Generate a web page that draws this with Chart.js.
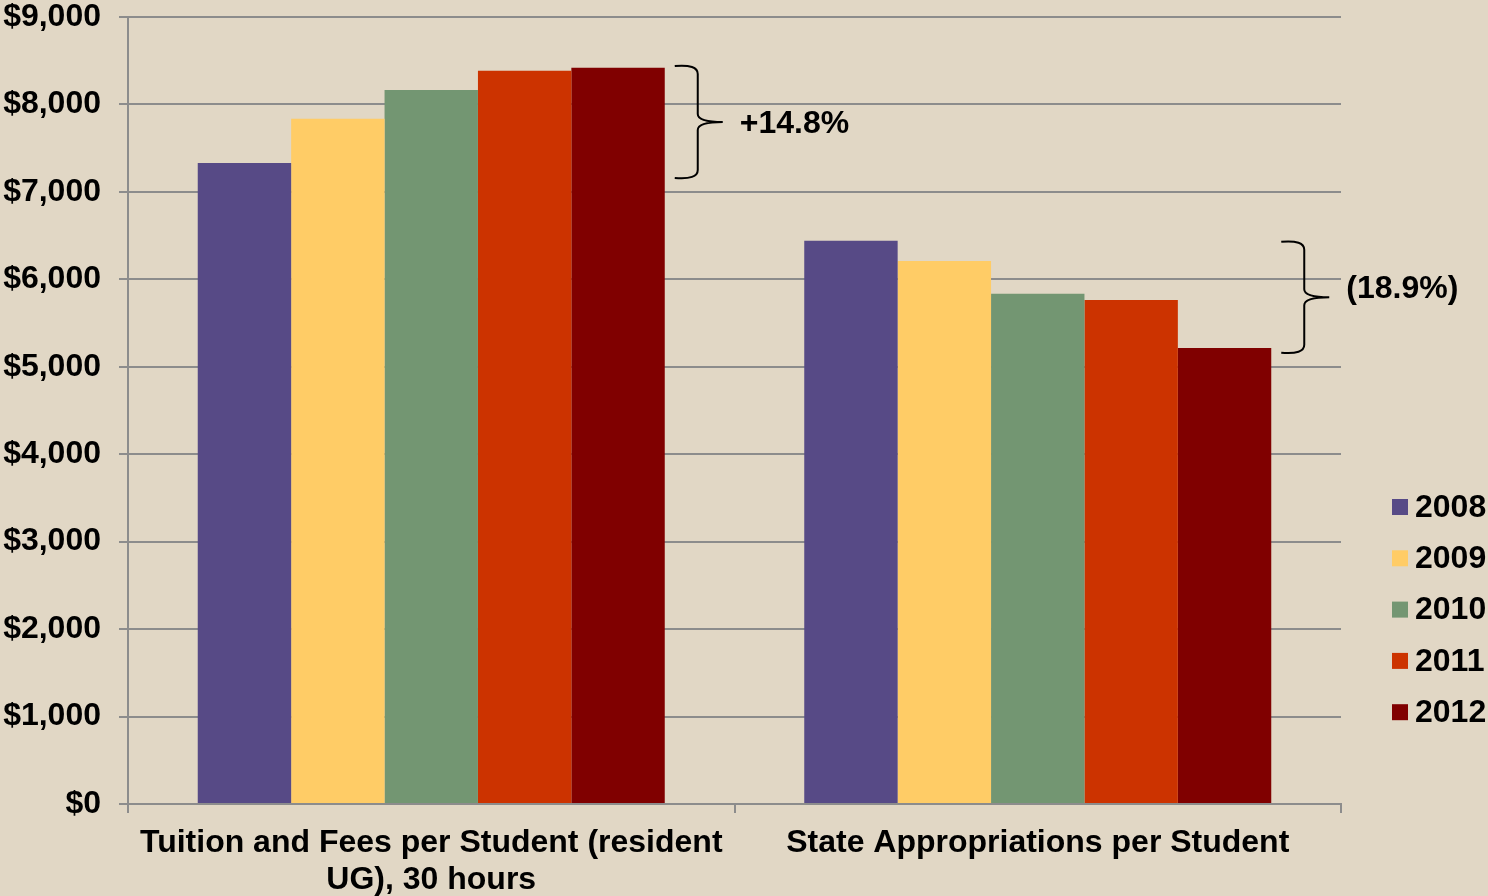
<!DOCTYPE html>
<html>
<head>
<meta charset="utf-8">
<script src="https://cdn.jsdelivr.net/npm/chart.js@4.4.0/dist/chart.umd.min.js"></script>
<style>
    body { margin: 0; background: #E1D7C5; }
    #wrap { width: 1488px; height: 896px; }
</style>
</head>
<body>
<div id="wrap"><canvas id="myChart" width="1488" height="896"></canvas></div>
<script>
// Chart data
const categories = [["Tuition and Fees per Student (resident", "UG), 30 hours"], "State Appropriations per Student"];
const years = ['2008', '2009', '2010', '2011', '2012'];
const values2008 = [7330, 6440];
const values2009 = [7835, 6210];
const values2010 = [8165, 5835];
const values2011 = [8385, 5765];
const values2012 = [8420, 5215];
const yTicks = [0, 1000, 2000, 3000, 4000, 5000, 6000, 7000, 8000, 9000];

// bracket notes: label, the value range the brace spans, and where the label sits
const changeLabels = ['+14.8%', '(18.9%)'];
const bracketTop = [8440, 6430];
const bracketBottom = [7160, 5160];
const labelAt = [7780, 5890];

const barColors = ['#574A86', '#FFCC66', '#739672', '#CC3300', '#800000'];
const FONT = '"Liberation Sans", Arial, sans-serif';

const seriesValues = [values2008, values2009, values2010, values2011, values2012];

// draws the curly brackets with their percent change
const bracketPlugin = {
    id: 'brackets',
    afterDatasetsDraw(chart) {
        const ctx = chart.ctx;
        const y = chart.scales.y;
        const lastMeta = chart.getDatasetMeta(years.length - 1);
        ctx.save();
        ctx.strokeStyle = '#000';
        ctx.lineWidth = 2;
        for (let i = 0; i < changeLabels.length; i++) {
            const bar = lastMeta.data[i];
            const x0 = bar.x + bar.width / 2 + 10;
            const xv = x0 + 23;
            const xt = x0 + 48;
            const top = y.getPixelForValue(bracketTop[i]);
            const bot = y.getPixelForValue(bracketBottom[i]);
            const mid = (top + bot) / 2;
            const r = 8;
            ctx.beginPath();
            ctx.moveTo(x0, top);
            ctx.quadraticCurveTo(xv, top - 2, xv, top + r);
            ctx.lineTo(xv, mid - r);
            ctx.quadraticCurveTo(xv, mid, xt, mid);
            ctx.moveTo(xt, mid);
            ctx.quadraticCurveTo(xv, mid, xv, mid + r);
            ctx.lineTo(xv, bot - r);
            ctx.quadraticCurveTo(xv, bot + 2, x0, bot);
            ctx.stroke();

            ctx.fillStyle = '#000';
            ctx.font = 'bold 32px ' + FONT;
            ctx.textBaseline = 'middle';
            ctx.textAlign = 'left';
            ctx.fillText(changeLabels[i], x0 + 65, y.getPixelForValue(labelAt[i]));
        }
        ctx.restore();
    }
};

// legend drawn at the lower right
const legendPlugin = {
    id: 'sideLegend',
    afterDraw(chart) {
        const ctx = chart.ctx;
        ctx.save();
        ctx.font = 'bold 32px ' + FONT;
        ctx.textBaseline = 'middle';
        ctx.textAlign = 'left';
        chart.data.datasets.forEach(function (ds, i) {
            const cy = 507 + i * 51.3;
            ctx.fillStyle = ds.backgroundColor;
            ctx.fillRect(1392, cy - 8, 16, 16);
            ctx.fillStyle = '#000';
            ctx.fillText(ds.label, 1415, cy + 1);
        });
        ctx.restore();
    }
};

const ctx = document.getElementById('myChart').getContext('2d');
const myChart = new Chart(ctx, {
    type: 'bar',
    data: {
        labels: categories,
        datasets: years.map(function (yr, i) {
            return {
                label: yr,
                data: seriesValues[i],
                backgroundColor: barColors[i],
                borderWidth: 0,
                barPercentage: 1,
                categoryPercentage: 0.77
            };
        })
    },
    options: {
        responsive: false,
        animation: false,
        layout: { padding: { top: 17, right: 147, left: 3, bottom: 0 } },
        plugins: {
            legend: { display: false },
            tooltip: { enabled: false }
        },
        scales: {
            x: {
                afterFit: function (axis) { axis.height = 92; },
                grid: {
                    display: true,
                    drawOnChartArea: false,
                    drawTicks: true,
                    tickLength: 9,
                    color: '#8C8C8C',
                    lineWidth: 2
                },
                border: { color: '#8C8C8C', width: 2 },
                ticks: {
                    color: '#000',
                    font: { family: FONT, size: 32, weight: 'bold', lineHeight: 1.15 },
                    padding: 12,
                    maxRotation: 0,
                    autoSkip: false
                }
            },
            y: {
                min: 0,
                max: 9000,
                afterFit: function (axis) {
                    axis.width = 125;
                    axis.paddingTop = 0;
                    axis.paddingBottom = 0;
                },
                afterBuildTicks: function (axis) {
                    axis.ticks = yTicks.map(function (v) { return { value: v }; });
                },
                grid: {
                    color: '#8C8C8C',
                    lineWidth: 2,
                    tickLength: 9
                },
                border: { color: '#8C8C8C', width: 2 },
                ticks: {
                    color: '#000',
                    font: { family: FONT, size: 32, weight: 'bold' },
                    padding: 18,
                    callback: function (v) { return '$' + v.toLocaleString('en-US'); }
                }
            }
        }
    },
    plugins: [bracketPlugin, legendPlugin]
});
</script>
</body>
</html>
